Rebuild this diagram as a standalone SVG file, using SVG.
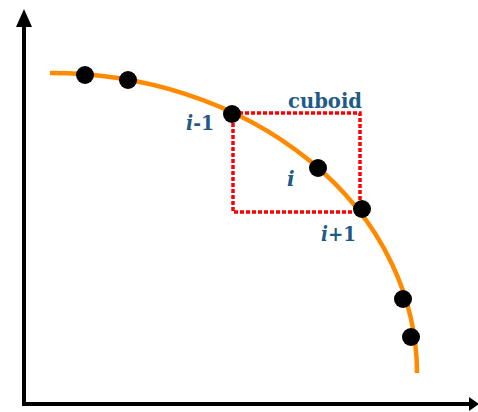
<svg xmlns="http://www.w3.org/2000/svg" width="478" height="412" viewBox="0 0 478 412">
<style>
.axis{stroke:#000;stroke-width:4;fill:none}
.curve{stroke:#ff8a00;stroke-width:4.5;fill:none}
.dot{fill:#000}
.box{stroke:#ff0000;stroke-width:3.5;fill:none;stroke-dasharray:4 2}
.lbl{font-family:"DejaVu Serif","Liberation Serif",serif;font-weight:bold;font-size:20px;fill:#215a87}
.it{font-style:italic}
</style>
<g id="axes">
<path class="axis" d="M24 404 L24 26"/>
<path d="M24 9 L32 27 L16 27 z" fill="#000"/>
<path class="axis" d="M22 404 L470 404"/>
<path d="M479 404 L469 397 L469 411 z" fill="#000"/>
</g>
<g id="cuboid">
<rect class="box" x="233" y="113" width="127" height="99"/>
<text class="lbl" x="288" y="108" textLength="74" lengthAdjust="spacingAndGlyphs">cuboid</text>
</g>
<g id="curve">
<path class="curve" d="M50 73 A366 300 0 0 1 417 373"/>
</g>
<g id="points">
<circle class="dot" cx="85" cy="75" r="9"/>
<circle class="dot" cx="128" cy="80" r="9"/>
<circle class="dot" cx="232" cy="114" r="9"/>
<circle class="dot" cx="318" cy="168" r="9"/>
<circle class="dot" cx="362" cy="209" r="9"/>
<circle class="dot" cx="403" cy="299" r="9"/>
<circle class="dot" cx="411" cy="337" r="9"/>
</g>
<g id="labels">
<text class="lbl" x="186" y="130" textLength="28" lengthAdjust="spacingAndGlyphs"><tspan class="it">i</tspan>-1</text>
<text class="lbl it" x="287" y="186">i</text>
<text class="lbl" x="321" y="241" textLength="35" lengthAdjust="spacingAndGlyphs"><tspan class="it">i</tspan>+1</text>
</g>
</svg>
